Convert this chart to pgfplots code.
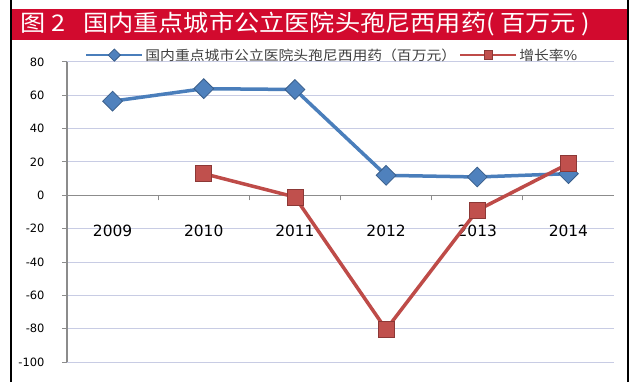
\documentclass[border=0pt]{standalone}
\usepackage{pgfplots}
\pgfplotsset{compat=1.18}
\usepackage{fontspec}
\setmainfont{DejaVu Sans}
\newfontfamily\cjk{Noto Sans CJK SC}
\newfontfamily\cjkw[FakeStretch=1.1]{Noto Sans CJK SC}
\definecolor{bluel}{HTML}{4A7EBB}
\definecolor{bluem}{HTML}{4F81BD}
\definecolor{blued}{HTML}{385D8A}
\definecolor{redl}{HTML}{BE4B48}
\definecolor{redm}{HTML}{C0504D}
\definecolor{redd}{HTML}{8C3836}
\definecolor{titlered}{HTML}{D20A2E}
\definecolor{gridc}{HTML}{C8CCE4}
\definecolor{axisc}{HTML}{8C8C8C}
\definecolor{txt}{HTML}{404040}
\begin{document}
\begin{tikzpicture}[x=1bp,y=1bp]
\path[use as bounding box] (0,0) rectangle (640,382);
\fill[white] (0,0) rectangle (640,382);
\fill[titlered] (12,342) rectangle (627,373);
\draw[black, line width=1.2bp] (11,0) -- (11,382);
\draw[black, line width=1.2bp] (628,0) -- (628,382);
\node[anchor=west, text=white, font=\cjkw\fontsize{23}{27}\selectfont, inner sep=0] at (20,357.5) {图 2\hspace{18bp}国内重点城市公立医院头孢尼西用药( 百万元 )};
\begin{axis}[
  at={(67bp,20bp)}, anchor=south west, scale only axis,
  width=547bp, height=300bp,
  xmin=-0.5, xmax=5.5, ymin=-100, ymax=80,
  axis x line*=middle, axis y line*=left,
  xtick={0,1,2,3,4,5},
  xticklabels={2009,2010,2011,2012,2013,2014},
  minor x tick num=1,
  ytick={-100,-80,...,80},
  /pgf/number format/assume math mode=true,
  tick align=outside,
  major tick length=5bp,
  minor tick length=5bp,
  x axis line style={axisc, line width=1.2bp},
  y axis line style={axisc, line width=1.2bp},
  tick style={axisc, line width=1bp},
  major x tick style={draw=none},
  minor x tick style={draw=axisc, line width=1bp},
  ymajorgrids,
  major grid style={gridc, line width=1bp},
  xticklabel style={font=\fontsize{15.5}{18}\selectfont, text=black, yshift=-21bp},
  yticklabel style={font=\fontsize{11.5}{13}\selectfont, text=black, xshift=-14bp},
  legend columns=2,
  legend style={at={(0.033,1.023)}, anchor=west, draw=none, fill=none, inner sep=0pt,
    font=\cjkw\fontsize{13.5}{16}\selectfont, text=txt,
    /tikz/every even column/.append style={column sep=1bp}},
  legend image code/.code={\draw[#1, line width=2.2bp, mark repeat=2, mark phase=2] plot coordinates {(0bp,0bp) (28bp,0bp) (56bp,0bp)};},
  legend image post style={mark size=4.3bp},
  clip=false,
]
\addplot[bluel, line width=3.5bp, mark=square*, mark size=7bp,
  mark options={rotate=45, fill=bluem, draw=blued, line width=0.8bp}]
  coordinates {(0,56.5) (1,64) (2,63.5) (3,12) (4,11) (5,13)};
\addlegendentry{国内重点城市公立医院头孢尼西用药（百万元）}
\addplot[redl, line width=3.5bp, mark=square*, mark size=8bp,
  mark options={fill=redm, draw=redd, line width=0.8bp}]
  coordinates {(1,13) (2,-1) (3,-80.5) (4,-9) (5,19)};
\addlegendentry{增长率\%}
\end{axis}
\end{tikzpicture}
\end{document}
